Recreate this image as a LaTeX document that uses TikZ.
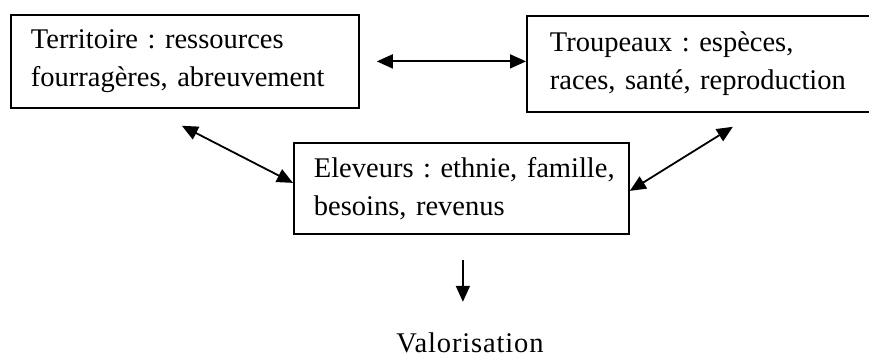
\documentclass[tikz,border=0pt]{standalone}
\usepackage{fontspec}
\setmainfont{Liberation Serif}
\frenchspacing
\usetikzlibrary{arrows.meta,calc}
\newcommand{\padA}{\hspace*{10pt}}
\newcommand{\padB}{\hspace*{11.5pt}}
\begin{document}
\begin{tikzpicture}[x=0.5pt,y=-0.5pt,
  box/.style={draw, line width=0.9pt, inner xsep=0pt, inner ysep=0pt, anchor=north west, align=left,
    font=\fontsize{14.25pt}{19pt}\selectfont},
  arr/.style={line width=0.9pt, {Triangle[length=8pt,width=7pt]}-{Triangle[length=8pt,width=7pt]}},
  arrone/.style={line width=0.9pt, -{Triangle[length=8pt,width=7pt]}},
  lbl/.style={font=\fontsize{14.25pt}{19pt}\selectfont\addfontfeatures{LetterSpace=3}, inner sep=0pt, anchor=base}]
\useasboundingbox (0,0) rectangle (869,357);
\node[box, text width=174pt, minimum height=46.5pt] (b1) at (10,14)
  {\padA Territoire : ressources\\\padA fourragères, abreuvement};
\node[box, text width=172.5pt, minimum height=48pt] (b2) at (526,15)
  {\padB Troupeaux : espèces,\\\padB races, santé, reproduction};
\node[box, text width=167.5pt, minimum height=45.5pt] (b3) at (293,142)
  {\padA Eleveurs : ethnie, famille,\\\padA besoins, revenus};
\node[lbl] (val) at (470,353) {Valorisation};
\coordinate (h1) at ([xshift=8.5pt]b1.east);
\coordinate (d1) at ([xshift=-1.5pt,yshift=-8.5pt]b1.south);
\coordinate (d2) at ([xshift=16.75pt,yshift=-7pt]b2.south);
\coordinate (v1) at ([xshift=0.75pt,yshift=-12.5pt]b3.south);
\draw[arr] (h1) -- (h1 -| b2.west);
\draw[arr] (d1) -- ([yshift=2.75pt]b3.west);
\draw[arr] (d2) -- ([yshift=-1.25pt]b3.east);
\draw[arrone, shorten >=15.5pt] (v1) -- (v1 |- val.north);
\end{tikzpicture}
\end{document}
